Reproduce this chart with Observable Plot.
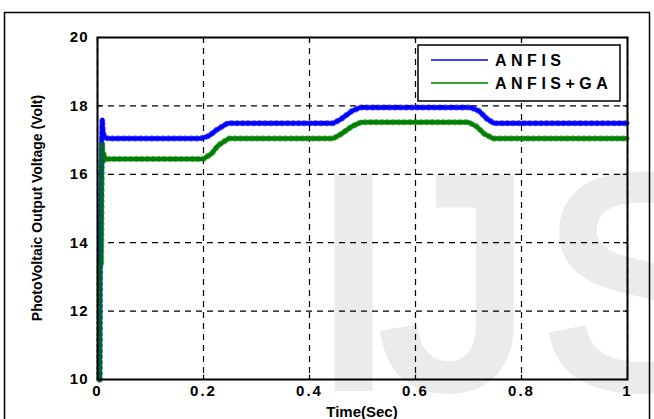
<!DOCTYPE html>
<html><head><meta charset="utf-8">
<script src="https://cdn.jsdelivr.net/npm/d3@7"></script>
<script src="https://cdn.jsdelivr.net/npm/@observablehq/plot@0.6"></script>
<style>body{margin:0;background:#fff}</style>
</head><body><div id="chart"></div>
<script>
// ANFIS series (blue)
const anfisTime = [0.004, 0.005, 0.008, 0.009, 0.010, 0.012, 0.016, 0.02, 0.195, 0.21, 0.225, 0.245, 0.445, 0.46, 0.48, 0.495, 0.705, 0.72, 0.735, 0.748, 1.0];
const anfisVolt = [10.0, 13.4, 17.0, 17.6, 17.3, 17.12, 17.06, 17.05, 17.05, 17.12, 17.3, 17.49, 17.49, 17.62, 17.85, 17.95, 17.95, 17.85, 17.62, 17.49, 17.49];
// ANFIS+GA series (green)
const gaTime = [0.004, 0.004, 0.007, 0.008, 0.009, 0.010, 0.012, 0.014, 0.018, 0.2, 0.215, 0.228, 0.248, 0.445, 0.46, 0.48, 0.497, 0.70, 0.715, 0.73, 0.746, 1.0];
const gaVolt = [10.0, 13.4, 13.4, 16.4, 16.9, 16.35, 16.6, 16.42, 16.45, 16.45, 16.6, 16.85, 17.05, 17.05, 17.18, 17.4, 17.52, 17.52, 17.4, 17.18, 17.05, 17.05];

const seriesNames = ["ANFIS", "ANFIS+GA"];
const seriesColors = ["#0000ff", "#008000"];
const xTicks = [0, 0.2, 0.4, 0.6, 0.8, 1];
const xTickLabels = ["0", "0.2", "0.4", "0.6", "0.8", "1"];
const yTicks = [10, 12, 14, 16, 18, 20];
const yTickLabels = ["10", "12", "14", "16", "18", "20"];
const xTitle = "Time(Sec)";
const yTitle = "PhotoVoltaic Output Voltage (Volt)";
const watermark = "IJS";

const rows = [
  ...anfisTime.map((t, i) => ({t, v: anfisVolt[i], s: seriesNames[0]})),
  ...gaTime.map((t, i) => ({t, v: gaVolt[i], s: seriesNames[1]}))
];
const color = {domain: seriesNames, range: seriesColors};
const font = "'Liberation Sans', Arial, Helvetica, sans-serif";

const svg = Plot.plot({
  width: 654, height: 419,
  marginLeft: 97, marginRight: 27, marginTop: 37, marginBottom: 40,
  style: {fontFamily: font, fontWeight: "bold", fontSize: "15px", color: "black", background: "transparent", overflow: "visible"},
  x: {domain: [0, 1], label: null},
  y: {domain: [10, 20], label: null},
  color,
  marks: [
    Plot.gridX(xTicks, {stroke: "black", strokeOpacity: 1, strokeWidth: 1.2, strokeDasharray: "6,5"}),
    Plot.gridY(yTicks, {stroke: "black", strokeOpacity: 1, strokeWidth: 1.2, strokeDasharray: "6,5"}),
    // inward ticks on all four sides
    Plot.ruleX(xTicks, {x: d => d, y1: 10, y2: 10.13, stroke: "black", strokeWidth: 1.2}),
    Plot.ruleX(xTicks, {x: d => d, y1: 19.87, y2: 20, stroke: "black", strokeWidth: 1.2}),
    Plot.ruleY(yTicks, {y: d => d, x1: 0, x2: 0.008, stroke: "black", strokeWidth: 1.2}),
    Plot.ruleY(yTicks, {y: d => d, x1: 0.992, x2: 1, stroke: "black", strokeWidth: 1.2}),
    Plot.axisX({anchor: "bottom", ticks: xTicks, tickSize: 0, tickPadding: 6, tickFormat: (d, i) => xTickLabels[i], label: null, fontSize: 15}),
    Plot.axisY({anchor: "left", ticks: yTicks, tickSize: 0, tickPadding: 9, tickFormat: (d, i) => yTickLabels[i], label: null, fontSize: 15}),
    Plot.line(rows, {x: "t", y: "v", z: "s", stroke: "s", strokeWidth: 4, strokeLinejoin: "round"}),
    Plot.line(rows, {x: "t", y: "v", z: "s", stroke: "s", strokeWidth: 6, strokeDasharray: "1,4.6", strokeOpacity: 0.65}),
    Plot.frame({stroke: "black", strokeWidth: 2})
  ]
});

const s = d3.select(svg);
// watermark behind everything (one glyph origin per letter)
const wm = s.insert("g", ":first-child");
wm.append("text").attr("x", "312 381 541").attr("y", 386).attr("font-size", 300).attr("font-weight", "normal")
  .attr("text-anchor", "start").attr("font-family", font)
  .attr("fill", "#ebebeb").attr("stroke", "#ebebeb").attr("stroke-width", 10).text(watermark);
// outer border
s.append("rect").attr("x", 4.5).attr("y", 12.5).attr("width", 645).attr("height", 430)
  .attr("fill", "none").attr("stroke", "black").attr("stroke-width", 1.5);
// letter spacing on tick labels
s.selectAll("g[aria-label='x-axis tick label'] text").attr("letter-spacing", 2);
s.selectAll("g[aria-label='y-axis tick label'] text").attr("letter-spacing", 1);
// axis titles
s.append("text").attr("x", 362).attr("y", 417).attr("text-anchor", "middle")
  .attr("font-size", 15).attr("font-weight", "bold").attr("font-family", font).text(xTitle);
s.append("text").attr("transform", "translate(42,208) rotate(-90)").attr("text-anchor", "middle")
  .attr("font-size", 14).attr("font-weight", "bold").attr("font-family", font).text(yTitle);
// legend
const lg = s.append("g");
lg.append("rect").attr("x", 418).attr("y", 45).attr("width", 202).attr("height", 56)
  .attr("fill", "white").attr("stroke", "black").attr("stroke-width", 1.5);
seriesNames.forEach((name, i) => {
  const yy = 60 + i * 23;
  lg.append("line").attr("x1", 431).attr("x2", 488).attr("y1", yy).attr("y2", yy)
    .attr("stroke", seriesColors[i]).attr("stroke-width", 1.5);
  lg.append("text").attr("x", 495).attr("y", yy + 6).attr("font-size", 16).attr("font-weight", "bold")
    .attr("text-anchor", "start").attr("font-family", font).attr("letter-spacing", 4.5).text(name);
});
document.getElementById("chart").append(svg);
</script>
</body></html>
